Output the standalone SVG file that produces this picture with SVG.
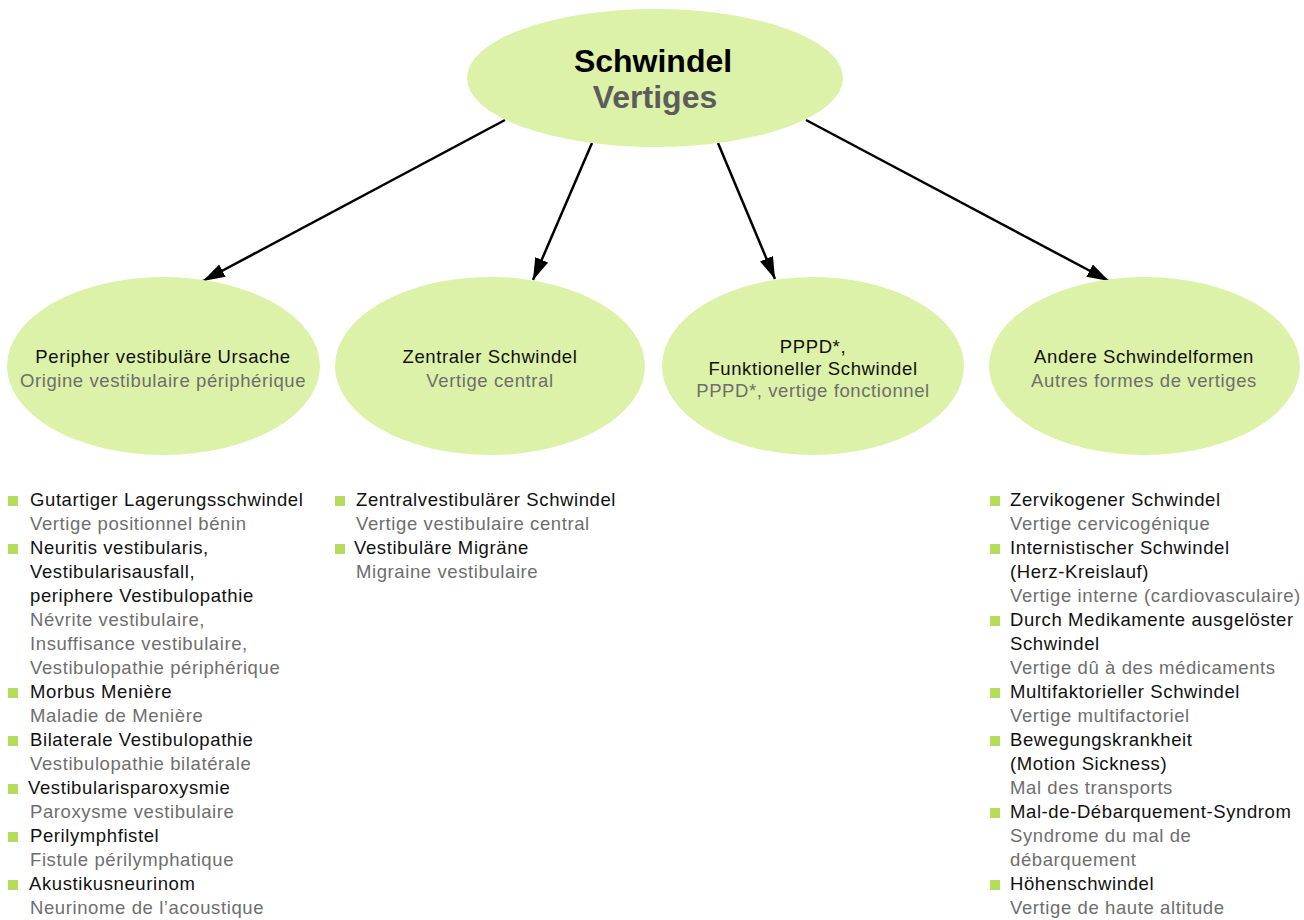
<svg xmlns="http://www.w3.org/2000/svg" width="1304" height="920" viewBox="0 0 1304 920">
<style>
.ell{fill:#dcf2a8;stroke:none}
.t{font-family:"Liberation Sans",Arial,sans-serif;font-size:18.5px;letter-spacing:0.6px;fill:#111}
.g{fill:#6e6e6e}
.c{text-anchor:middle}
.h{font-family:"Liberation Sans",Arial,sans-serif;font-size:32px;font-weight:bold;text-anchor:middle}
.b{fill:#b5dc5c}
.conn{stroke:#000;stroke-width:2.5;fill:none;marker-end:url(#arr)}
</style>
<defs>
<marker id="arr" markerUnits="userSpaceOnUse" markerWidth="24" markerHeight="16" refX="22" refY="7" orient="auto">
<path d="M0,0 L22,7 L0,14 z" fill="#000"/>
</marker>
</defs>
<rect width="1304" height="920" fill="#fff"/>
<g id="connectors">
<line class="conn" x1="505" y1="120" x2="203" y2="281"/>
<line class="conn" x1="592" y1="143" x2="533" y2="280"/>
<line class="conn" x1="718" y1="143" x2="775" y2="279"/>
<line class="conn" x1="806" y1="120" x2="1109" y2="281"/>
</g>
<g id="root">
<ellipse class="ell" cx="655" cy="78" rx="188" ry="69"/>
<text class="h" x="653" y="72" fill="#000">Schwindel</text>
<text class="h" x="655" y="108" fill="#5c5c5c">Vertiges</text>
</g>
<g id="peripher">
<ellipse class="ell" cx="163.5" cy="366" rx="156.5" ry="89"/>
<text class="t c" x="163" y="363">Peripher vestibuläre Ursache</text>
<text class="t g c" x="163" y="387">Origine vestibulaire périphérique</text>
</g>
<g id="zentral">
<ellipse class="ell" cx="490" cy="366" rx="155" ry="89"/>
<text class="t c" x="490" y="363">Zentraler Schwindel</text>
<text class="t g c" x="490" y="387">Vertige central</text>
</g>
<g id="pppd">
<ellipse class="ell" cx="813" cy="366" rx="151" ry="89"/>
<text class="t c" x="813" y="353">PPPD*,</text>
<text class="t c" x="813" y="375">Funktioneller Schwindel</text>
<text class="t g c" x="813" y="397">PPPD*, vertige fonctionnel</text>
</g>
<g id="andere">
<ellipse class="ell" cx="1144.5" cy="366" rx="155.5" ry="89"/>
<text class="t c" x="1144" y="363">Andere Schwindelformen</text>
<text class="t g c" x="1144" y="387">Autres formes de vertiges</text>
</g>
<g id="list-peripher">
<rect class="b" x="8" y="496" width="10" height="10"/>
<rect class="b" x="8" y="544" width="10" height="10"/>
<rect class="b" x="8" y="688" width="10" height="10"/>
<rect class="b" x="8" y="736" width="10" height="10"/>
<rect class="b" x="8" y="784" width="10" height="10"/>
<rect class="b" x="8" y="832" width="10" height="10"/>
<rect class="b" x="8" y="880" width="10" height="10"/>
<text class="t" x="30" y="506">Gutartiger Lagerungsschwindel</text>
<text class="t g" x="30" y="530">Vertige positionnel bénin</text>
<text class="t" x="30" y="554">Neuritis vestibularis,</text>
<text class="t" x="30" y="578">Vestibularisausfall,</text>
<text class="t" x="30" y="602">periphere Vestibulopathie</text>
<text class="t g" x="30" y="626">Névrite vestibulaire,</text>
<text class="t g" x="30" y="650">Insuffisance vestibulaire,</text>
<text class="t g" x="30" y="674">Vestibulopathie périphérique</text>
<text class="t" x="30" y="698">Morbus Menière</text>
<text class="t g" x="30" y="722">Maladie de Menière</text>
<text class="t" x="30" y="746">Bilaterale Vestibulopathie</text>
<text class="t g" x="30" y="770">Vestibulopathie bilatérale</text>
<text class="t" x="28" y="794">Vestibularisparoxysmie</text>
<text class="t g" x="30" y="818">Paroxysme vestibulaire</text>
<text class="t" x="30" y="842">Perilymphfistel</text>
<text class="t g" x="30" y="866">Fistule périlymphatique</text>
<text class="t" x="29" y="890">Akustikusneurinom</text>
<text class="t g" x="30" y="914">Neurinome de l’acoustique</text>
</g>
<g id="list-zentral">
<rect class="b" x="335" y="496" width="10" height="10"/>
<rect class="b" x="335" y="544" width="10" height="10"/>
<text class="t" x="356" y="506">Zentralvestibulärer Schwindel</text>
<text class="t g" x="356" y="530">Vertige vestibulaire central</text>
<text class="t" x="354" y="554">Vestibuläre Migräne</text>
<text class="t g" x="356" y="578">Migraine vestibulaire</text>
</g>
<g id="list-andere">
<rect class="b" x="990" y="496" width="10" height="10"/>
<rect class="b" x="990" y="544" width="10" height="10"/>
<rect class="b" x="990" y="616" width="10" height="10"/>
<rect class="b" x="990" y="688" width="10" height="10"/>
<rect class="b" x="990" y="736" width="10" height="10"/>
<rect class="b" x="990" y="808" width="10" height="10"/>
<rect class="b" x="990" y="880" width="10" height="10"/>
<text class="t" x="1010" y="506">Zervikogener Schwindel</text>
<text class="t g" x="1010" y="530">Vertige cervicogénique</text>
<text class="t" x="1010" y="554">Internistischer Schwindel</text>
<text class="t" x="1010" y="578">(Herz-Kreislauf)</text>
<text class="t g" x="1010" y="602">Vertige interne (cardiovasculaire)</text>
<text class="t" x="1010" y="626">Durch Medikamente ausgelöster</text>
<text class="t" x="1010" y="650">Schwindel</text>
<text class="t g" x="1010" y="674">Vertige dû à des médicaments</text>
<text class="t" x="1010" y="698">Multifaktorieller Schwindel</text>
<text class="t g" x="1010" y="722">Vertige multifactoriel</text>
<text class="t" x="1010" y="746">Bewegungskrankheit</text>
<text class="t" x="1010" y="770">(Motion Sickness)</text>
<text class="t g" x="1010" y="794">Mal des transports</text>
<text class="t" x="1010" y="818">Mal-de-Débarquement-Syndrom</text>
<text class="t g" x="1010" y="842">Syndrome du mal de</text>
<text class="t g" x="1010" y="866">débarquement</text>
<text class="t" x="1010" y="890">Höhenschwindel</text>
<text class="t g" x="1010" y="914">Vertige de haute altitude</text>
</g>
</svg>
